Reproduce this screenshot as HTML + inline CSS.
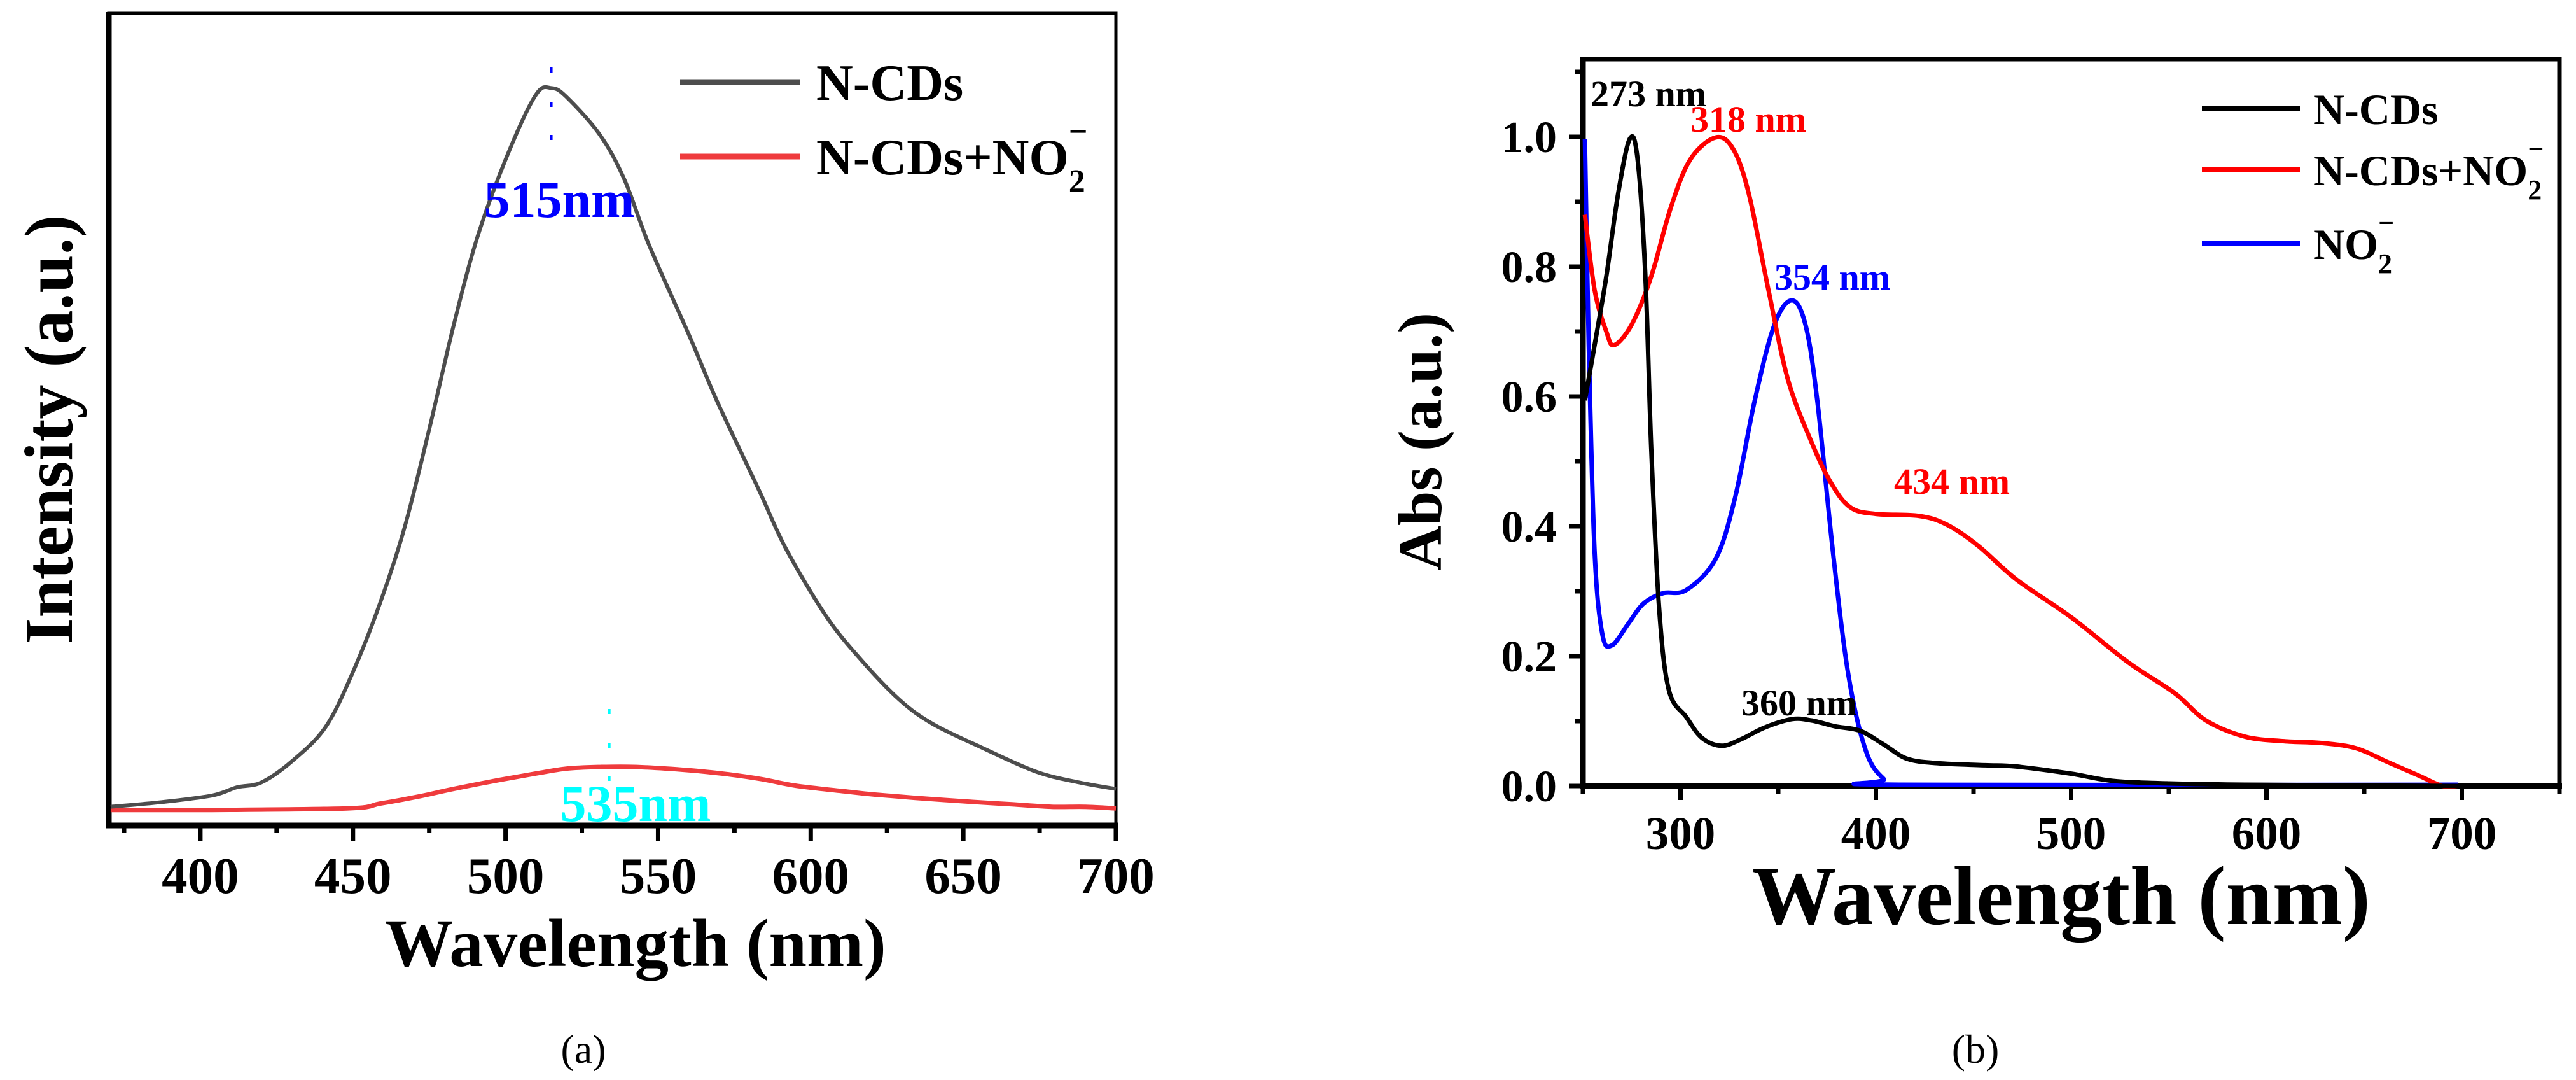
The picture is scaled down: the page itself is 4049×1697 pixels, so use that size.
<!DOCTYPE html>
<html><head><meta charset="utf-8"><style>
html,body{margin:0;padding:0;background:#fff;}
svg{display:block;font-family:"Liberation Serif",serif;}
</style></head><body>
<svg id="fig" width="4049" height="1697" viewBox="0 0 4049 1697" xmlns="http://www.w3.org/2000/svg">
<g id="pa"></g>
<g id="pb"></g>
</svg>
<script>
// ---------- Panel (a) data ----------
const aGrayX=[370.6,388,404,412,420,430,441,450,459,467,475,483,491,501,510,515,520,531,539,547,560,569,579,584,592,605,616,629,640,656,674,688,700];
const aGrayY=[.023,.029,.037,.047,.053,.079,.121,.189,.275,.368,.488,.616,.727,.829,.900,.908,.897,.850,.795,.715,.605,.525,.445,.405,.340,.258,.206,.155,.125,.096,.066,.053,.045];
const aRedX=[370.6,400,448,459,472,483,498,510,520,531,543,560,573,584,595,611,621,634,653,666,679,690,700];
const aRedY=[.019,.019,.021,.027,.036,.045,.056,.064,.070,.072,.072,.068,.063,.057,.049,.042,.038,.034,.029,.026,.023,.023,.021];
const aTicks=[400,450,500,550,600,650,700];
const aMinor=[375,425,475,525,575,625,675];
// ---------- Panel (b) data ----------
const bBlackX=[251,256,262,268,274,278,282,285,289,294,303,311,321,331,343,357,367,379,392,404,416,432,456,472,500,521,549,589,698];
const bBlackY=[.594,.679,.785,.912,.997,.965,.785,.520,.276,.148,.106,.074,.062,.072,.090,.103,.101,.092,.085,.064,.042,.035,.032,.030,.019,.008,.004,.002,0];
const bRedX=[251,256,262,266,275,285,295,305,318,327,335,345,355,367,377,387,400,422,436,452,472,500,529,553,569,589,609,629,646,662,678,690,698];
const bRedY=[.880,.764,.700,.679,.711,.785,.891,.965,.999,.981,.912,.764,.626,.530,.467,.429,.419,.416,.403,.371,.318,.260,.191,.143,.101,.076,.069,.066,.058,.037,.016,0,0];
const bBlueX=[251,253,256,260,265,273,281,291,303,318,328,338,348,357,364,370,378,386,395,404,412,698];
const bBlueY=[.997,.679,.361,.233,.217,.249,.281,.297,.302,.350,.445,.594,.710,.748,.710,.594,.361,.170,.053,.011,.002,.002];
const bXTicks=[300,400,500,600,700];
const bXMinor=[250,350,450,550,650,750];
const bYTicks=[0,0.2,0.4,0.6,0.8,1.0];
const bYMinor=[0.1,0.3,0.5,0.7,0.9,1.1];

const NS="http://www.w3.org/2000/svg";
function mk(parent,tag,attrs,text){const e=document.createElementNS(NS,tag);for(const k in attrs)e.setAttribute(k,attrs[k]);if(text!==undefined)e.textContent=text;parent.appendChild(e);return e;}
function smoothPath(pts){let d="M"+pts[0][0].toFixed(1)+","+pts[0][1].toFixed(1);
 for(let i=0;i<pts.length-1;i++){const p0=pts[i-1]||pts[i],p1=pts[i],p2=pts[i+1],p3=pts[i+2]||p2;
  const c1=[p1[0]+(p2[0]-p0[0])/6,p1[1]+(p2[1]-p0[1])/6],c2=[p2[0]-(p3[0]-p1[0])/6,p2[1]-(p3[1]-p1[1])/6];
  d+="C"+c1[0].toFixed(1)+","+c1[1].toFixed(1)+" "+c2[0].toFixed(1)+","+c2[1].toFixed(1)+" "+p2[0].toFixed(1)+","+p2[1].toFixed(1);}
 return d;}

// ---------- Panel (a) ----------
(function(){
const g=document.getElementById('pa');
const L=171,R=1754,T=21,B=1297;
const xs=v=>L+(v-370)*(R-L)/330;
const ys=v=>B-v*(B-T);
let e;
e=mk(g,'rect',{x:L,y:T,width:R-L,height:B-T,fill:'none',stroke:'#000','stroke-width':5});

e=mk(g,'line',{x1:L,y1:T-2,x2:L,y2:B+4,stroke:'#000','stroke-width':9});

e=mk(g,'line',{x1:L-4,y1:B,x2:R+4,y2:B,stroke:'#000','stroke-width':9});

aTicks.forEach(t=>{const x=xs(t);
 e=mk(g,'line',{x1:x,y1:B,x2:x,y2:B+25,stroke:'#000','stroke-width':7});
 
 e=mk(g,'text',{x:x,y:1403,'font-size':81,'font-weight':'bold','text-anchor':'middle'},String(t));
 });
aMinor.forEach(t=>{const x=xs(t);
 e=mk(g,'line',{x1:x,y1:B,x2:x,y2:B+12,stroke:'#000','stroke-width':7});
 });
e=mk(g,'path',{d:smoothPath(aRedX.map((v,i)=>[xs(v),ys(aRedY[i])])),fill:'none',stroke:'#ef3b3d','stroke-width':7,'stroke-linejoin':'round'});

e=mk(g,'path',{d:smoothPath(aGrayX.map((v,i)=>[xs(v),ys(aGrayY[i])])),fill:'none',stroke:'#4d4d4d','stroke-width':6,'stroke-linejoin':'round'});

[110,164,216].forEach(y=>{e=mk(g,'rect',{x:xs(515)-2,y:y-4,width:4,height:8,fill:'#0000ff'});
 });
[1118,1171,1223].forEach(y=>{e=mk(g,'rect',{x:xs(534)-2,y:y-4,width:4,height:8,fill:'#00ffff'});
 });
e=mk(g,'text',{x:879,y:341,'font-size':82,'font-weight':'bold','text-anchor':'middle',fill:'#0000ff'},'515nm');

e=mk(g,'text',{x:999,y:1290,'font-size':82,'font-weight':'bold','text-anchor':'middle',fill:'#00ffff'},'535nm');

// legend
e=mk(g,'line',{x1:1069,y1:129,x2:1257,y2:129,stroke:'#4d4d4d','stroke-width':9});

e=mk(g,'text',{x:1283,y:157,'font-size':80,'font-weight':'bold'},'N-CDs');

e=mk(g,'line',{x1:1069,y1:246,x2:1257,y2:246,stroke:'#ef3b3d','stroke-width':9});

e=mk(g,'text',{x:1283,y:274,'font-size':80,'font-weight':'bold'});

e.innerHTML='N-CDs+NO<tspan font-size="52" dy="28">2</tspan><tspan font-size="52" dx="-26" dy="-78">−</tspan>';
// titles
e=mk(g,'text',{x:0,y:0,'font-size':108,'font-weight':'bold','text-anchor':'middle',transform:'translate(113,675) rotate(-90)'},'Intensity (a.u.)');

e=mk(g,'text',{x:999,y:1518,'font-size':107,'font-weight':'bold','text-anchor':'middle'},'Wavelength (nm)');

e=mk(g,'text',{x:917,y:1670,'font-size':64,'text-anchor':'middle'},'(a)');

})();

// ---------- Panel (b) ----------
(function(){
const g=document.getElementById('pb');
const L=2488,R=4023,T=93,B=1235;
const xs=v=>L+(v-250)*(R-L)/500;
const ys=v=>B-v*1020;
let e;
e=mk(g,'rect',{x:L,y:T,width:R-L,height:B-T,fill:'none',stroke:'#000','stroke-width':7});

e=mk(g,'line',{x1:L,y1:T-3,x2:L,y2:B+4,stroke:'#000','stroke-width':9});

e=mk(g,'line',{x1:L-4,y1:B,x2:R+4,y2:B,stroke:'#000','stroke-width':9});

bXTicks.forEach(t=>{const x=xs(t);
 e=mk(g,'line',{x1:x,y1:B,x2:x,y2:B+22,stroke:'#000','stroke-width':7});
 
 e=mk(g,'text',{x:x,y:1334,'font-size':73,'font-weight':'bold','text-anchor':'middle'},String(t));
 });
bXMinor.forEach(t=>{const x=xs(t);
 e=mk(g,'line',{x1:x,y1:B,x2:x,y2:B+12,stroke:'#000','stroke-width':7});
 });
bYTicks.forEach(t=>{const y=ys(t);
 e=mk(g,'line',{x1:L-22,y1:y,x2:L,y2:y,stroke:'#000','stroke-width':7});
 
 e=mk(g,'text',{x:2447,y:y+24,'font-size':70,'font-weight':'bold','text-anchor':'end'},t.toFixed(1));
 });
bYMinor.forEach(t=>{const y=ys(t);
 e=mk(g,'line',{x1:L-12,y1:y,x2:L,y2:y,stroke:'#000','stroke-width':7});
 });
e=mk(g,'path',{d:smoothPath(bBlueX.map((v,i)=>[xs(v),ys(bBlueY[i])])),fill:'none',stroke:'#0000ff','stroke-width':7,'stroke-linejoin':'round'});

e=mk(g,'path',{d:smoothPath(bRedX.map((v,i)=>[xs(v),ys(bRedY[i])])),fill:'none',stroke:'#ff0000','stroke-width':7,'stroke-linejoin':'round'});

e=mk(g,'path',{d:smoothPath(bBlackX.map((v,i)=>[xs(v),ys(bBlackY[i])])),fill:'none',stroke:'#000','stroke-width':7,'stroke-linejoin':'round'});

// annotations
e=mk(g,'text',{x:2500,y:167,'font-size':58,'font-weight':'bold'},'273 nm');

e=mk(g,'text',{x:2657,y:207,'font-size':58,'font-weight':'bold',fill:'#ff0000'},'318 nm');

e=mk(g,'text',{x:2789,y:455,'font-size':58,'font-weight':'bold',fill:'#0000ff'},'354 nm');

e=mk(g,'text',{x:2977,y:776,'font-size':58,'font-weight':'bold',fill:'#ff0000'},'434 nm');

e=mk(g,'text',{x:2737,y:1124,'font-size':58,'font-weight':'bold'},'360 nm');

// legend
e=mk(g,'line',{x1:3461,y1:171,x2:3615,y2:171,stroke:'#000','stroke-width':8});

e=mk(g,'text',{x:3636,y:195,'font-size':68,'font-weight':'bold'},'N-CDs');

e=mk(g,'line',{x1:3461,y1:267,x2:3615,y2:267,stroke:'#ff0000','stroke-width':8});

e=mk(g,'text',{x:3636,y:291,'font-size':68,'font-weight':'bold'});

e.innerHTML='N-CDs+NO<tspan font-size="44" dy="22">2</tspan><tspan font-size="44" dx="-22" dy="-64">−</tspan>';
e=mk(g,'line',{x1:3461,y1:383,x2:3615,y2:383,stroke:'#0000ff','stroke-width':8});

e=mk(g,'text',{x:3636,y:407,'font-size':68,'font-weight':'bold'});

e.innerHTML='NO<tspan font-size="44" dy="22">2</tspan><tspan font-size="44" dx="-22" dy="-64">−</tspan>';
// titles
e=mk(g,'text',{x:0,y:0,'font-size':98,'font-weight':'bold','text-anchor':'middle',transform:'translate(2265,694) rotate(-90)'},'Abs (a.u.)');

e=mk(g,'text',{x:3240,y:1452,'font-size':132,'font-weight':'bold','text-anchor':'middle'},'Wavelength (nm)');

e=mk(g,'text',{x:3105,y:1670,'font-size':64,'text-anchor':'middle'},'(b)');

})();
</script>
</body></html>
